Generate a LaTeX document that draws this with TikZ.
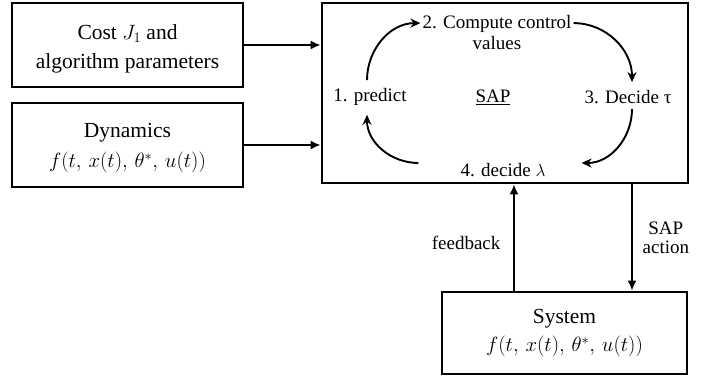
\documentclass[tikz,border=0pt]{standalone}
\usepackage{fontspec}
\setmainfont{Liberation Serif}
\usetikzlibrary{arrows.meta}
\newcommand{\fx}{$f\bigl(t,\,x(t),\,\theta^*,\,u(t)\bigr)$}
\begin{document}
\begin{tikzpicture}[x=1pt,y=-1pt,
  box/.style={draw,line width=2.6pt,align=center,inner sep=0pt},
  lab/.style={font=\fontsize{19}{21}\selectfont,align=center,inner sep=8pt},
  arr/.style={line width=2.6pt,-{Latex[length=10pt,width=9pt]}},
  carr/.style={line width=1.9pt,-{Stealth[length=10pt,width=9pt]}}]
\useasboundingbox (0,0) rectangle (704,375);
\node[box,minimum width=231pt,minimum height=84pt,font=\fontsize{21.5}{29}\selectfont] (cost) at (127.5,45) {\rule{0pt}{23pt}Cost $J_1$ and\\algorithm parameters};
\node[box,minimum width=231pt,minimum height=84pt,font=\fontsize{21.5}{30}\selectfont] (dyn) at (127.5,145) {\rule{0pt}{21pt}Dynamics\\\fx};
\node[box,minimum width=366pt,minimum height=180pt] (sap) at (505,93) {};
\node[box,minimum width=245pt,minimum height=82pt,font=\fontsize{21.5}{28}\selectfont] (sys) at (564.5,333) {System\\\fx};

\node[lab] (p1) at (370,97) {1. predict};
\node[lab,inner sep=2pt] (p2) at (497,32.5) {2. Compute control\\values};
\node[lab] (p3) at (628,97) {3. Decide τ};
\node[lab] (p4) at (503,170) {4. decide $\lambda$};
\node[lab] (sl) at (493,97) {\underline{SAP}};

\draw[carr] ([xshift=-3pt]p1.north) to[out=90,in=180] ([yshift=-10pt]p2.north west);
\draw[carr] ([yshift=-10pt]p2.north east) to[out=0,in=90] ([xshift=4pt]p3.north);
\draw[carr] ([xshift=4pt,yshift=3pt]p3.south) to[out=-90,in=0] ([xshift=28pt,yshift=7pt]p4.east);
\draw[carr] ([xshift=-34pt,yshift=7pt]p4.west) to[out=180,in=-90] ([xshift=-3pt,yshift=-1pt]p1.south);

\draw[arr] (cost.east) -- (sap.west |- cost.east);
\draw[arr] (dyn.east) -- (sap.west |- dyn.east);

\coordinate (fbx) at (514,0);
\coordinate (sax) at (632,0);
\draw[arr] (sys.north -| fbx) -- (sap.south -| fbx) node[pos=0.45,left=9pt,font=\fontsize{19}{21}\selectfont] (fb) {feedback};
\draw[arr] (sap.south -| sax) -- (sys.north -| sax) node[pos=0.5,right=6pt,align=center,font=\fontsize{19}{19}\selectfont] (sa) {SAP\\action};
\end{tikzpicture}
\end{document}
